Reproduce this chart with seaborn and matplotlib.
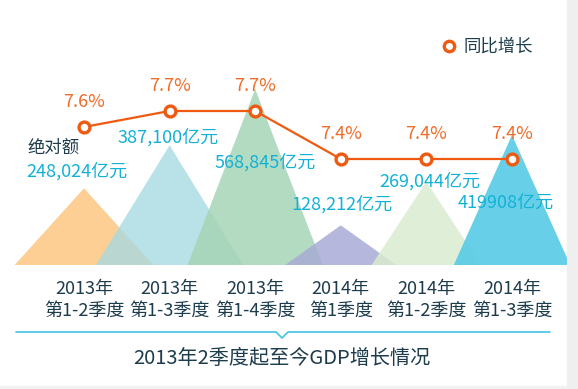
import matplotlib.pyplot as plt
import numpy as np
import seaborn as sns
from matplotlib.lines import Line2D
from matplotlib.patches import Rectangle

# 数据
years = ['2013年', '2013年', '2013年', '2014年', '2014年', '2014年']
quarters = ['第1-2季度', '第1-3季度', '第1-4季度', '第1季度', '第1-2季度', '第1-3季度']
gdp_total = [248024, 387100, 568845, 128212, 269044, 419908]
gdp_text = ['248,024亿元', '387,100亿元', '568,845亿元', '128,212亿元', '269,044亿元', '419908亿元']
growth = [7.6, 7.7, 7.7, 7.4, 7.4, 7.4]

# 样式
mountain_colors = ['#FDCF94', '#A6DAE2', '#A3D4B4', '#A9ABD6', '#DAECCF', '#5ACCE6']
mountain_alpha = [1.0, 0.78, 0.82, 0.85, 0.85, 0.92]
mountain_halfwidth = [0.81, 0.86, 0.79, 0.65, 0.64, 0.68]
value_offset = [(-7, -44), (-2, -26), (10, -51), (1, -45), (3, -22), (-6, -44)]  # 像素
orange = '#EE5A12'
cyan = '#14B1D6'
navy = '#1D3C4C'

sns.set_theme(style='white')
plt.rcParams['font.family'] = ['Noto Sans CJK SC', 'DejaVu Sans']

W, H = 578, 389
base_y = 265
fig = plt.figure(figsize=(W / 100, H / 100), dpi=100)

# 背景灰边
fig.add_artist(Rectangle((567 / W, 0), 1, 1, transform=fig.transFigure, color='#EFEFEF', zorder=0))
fig.add_artist(Rectangle((0, 0), 567 / W, 3 / H, transform=fig.transFigure, color='#F2F2F2', zorder=0))

ax = fig.add_axes([0, (H - base_y) / H, 567 / W, base_y / H])
ax.patch.set_alpha(0)
x0, step = 84, 85.6
pos = np.arange(len(gdp_total))
ax.set_xlim(-x0 / step, (567 - x0) / step)
ax.set_ylim(0, base_y * 568845 / 176)

# 山形三角
for i, v in enumerate(gdp_total):
    hw = mountain_halfwidth[i]
    ax.fill([pos[i] - hw, pos[i], pos[i] + hw], [0, v, 0],
            color=mountain_colors[i], alpha=mountain_alpha[i], lw=0)

ax.set_xticks(pos)
ax.set_xticklabels([y + '\n' + q for y, q in zip(years, quarters)],
                   fontsize=13, color=navy, linespacing=1.28)
ax.tick_params(axis='x', length=0, pad=11)
ax.set_yticks([])
sns.despine(ax=ax, left=True, bottom=True)

# 同比增长折线
ax2 = ax.twinx()
ax2.set_ylim(7.7 - (base_y - 111) / 160, 7.7 + 111 / 160)
sns.lineplot(x=pos, y=growth, ax=ax2, color=orange, lw=1.6, marker='o',
             markersize=7.8, markerfacecolor='white', markeredgecolor=orange,
             markeredgewidth=2.4, zorder=5)
ax2.set_yticks([])
sns.despine(ax=ax2, left=True, bottom=True, right=True)

for i, g in enumerate(growth):
    ax2.annotate(f'{g}%', (pos[i], g), xytext=(0, 25), textcoords='offset pixels',
                 ha='center', va='center', fontsize=13, color='#F06A28')
    dx, dy = value_offset[i]
    ax2.annotate(gdp_text[i], (pos[i], g), xytext=(dx, dy), textcoords='offset pixels',
                 ha='center', va='center', fontsize=13, color=cyan)
ax2.annotate('绝对额', (pos[0], growth[0]), xytext=(-57, -21), textcoords='offset pixels',
             ha='left', va='center', fontsize=12.5, color=navy)

# 图例
handle = Line2D([], [], ls='none', marker='o', markersize=7.5, markerfacecolor='white',
                markeredgecolor=orange, markeredgewidth=2.4)
fig.legend([handle], ['同比增长'], loc='center left', bbox_to_anchor=(440 / W, 1 - 47 / H),
           frameon=False, handlelength=1.0, handletextpad=0.35, fontsize=12.5,
           labelcolor=navy, borderaxespad=0, borderpad=0)

# 分隔线与标题
ly = 1 - 332 / H
xs = np.array([16, 276, 282, 288, 550]) / W
ys = np.array([ly, ly, ly - 6 / H, ly, ly])
fig.add_artist(Line2D(xs, ys, color='#45C3E2', lw=1.2))
fig.text(282 / W, 1 - 359 / H, '2013年2季度起至今GDP增长情况', ha='center', va='center',
         fontsize=14.5, color=navy)

fig.savefig('out.png', dpi=100)
